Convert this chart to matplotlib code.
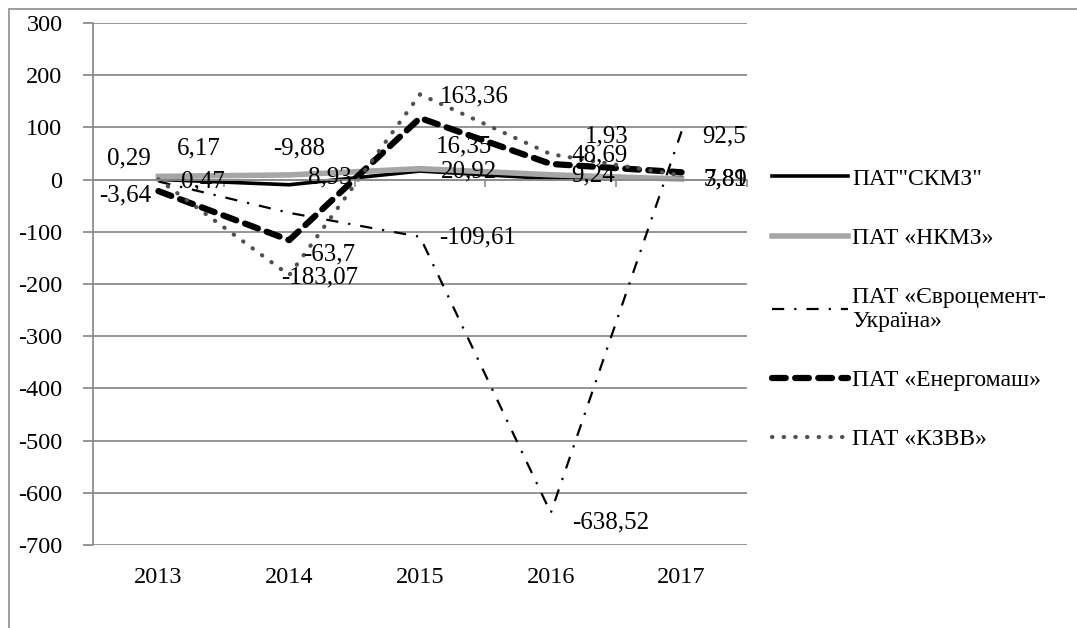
import matplotlib.pyplot as plt
from matplotlib.lines import Line2D
from matplotlib.patches import Rectangle

plt.rcParams['font.family'] = ['Liberation Serif', 'DejaVu Serif']
plt.rcParams['axes.unicode_minus'] = False

years = [2013, 2014, 2015, 2016, 2017]

skmz = [0.29, -9.88, 16.35, 1.93, 3.89]
nkmz = [6.17, 8.93, 20.92, 9.24, 1.0]
eurocement = [-3.64, -63.7, -109.61, -638.52, 92.5]
energomash = [-22.0, -116.0, 118.0, 30.0, 14.0]
kzvv = [0.47, -183.07, 163.36, 48.69, 7.81]

series_names = ['ПАТ"СКМЗ"', 'ПАТ «НКМЗ»', 'ПАТ «Євроцемент-\nУкраїна»',
                'ПАТ «Енергомаш»', 'ПАТ «КЗВВ»']

# data labels as they sit in the original picture (text, x, y in data units)
label_texts = ['0,29', '6,17', '-3,64', '0,47', '-9,88', '8,93', '-63,7', '-183,07',
               '163,36', '16,35', '20,92', '-109,61', '1,93', '48,69', '9,24',
               '-638,52', '92,5', '7,81', '3,89']
label_x = [2012.61, 2013.14, 2012.55, 2013.17, 2013.88, 2014.14, 2014.11, 2013.94,
           2015.15, 2015.12, 2015.16, 2015.15, 2016.26, 2016.16, 2016.16,
           2016.16, 2017.16, 2017.17, 2017.17]
label_y = [41, 59, -31, -3, 60, 5, -144, -188, 160, 64, 15, -110, 82, 46, 7,
           -656, 82, 0, 0]

fig = plt.figure(figsize=(10.77, 6.28), dpi=100)
fig.patches.append(Rectangle((9 / 1077, -0.1), 1.2, 1 - 9 / 628 + 0.1,
                             transform=fig.transFigure, fill=False,
                             edgecolor='#8c8c8c', linewidth=1.2))

ax = fig.add_axes([93 / 1077, 83 / 628, 654 / 1077, 522 / 628])

grid_c = '#8c8c8c'
ax.set_xlim(2012.5, 2017.5)
ax.set_ylim(-700, 300)
ax.set_yticks(range(-700, 301, 100))
ax.set_xticks(years)
ax.set_xticklabels([str(y) for y in years])
ax.yaxis.grid(True, color=grid_c, linewidth=1.3)
ax.set_axisbelow(True)

for s in ['right', 'bottom']:
    ax.spines[s].set_visible(False)
ax.spines['left'].set_color(grid_c)
ax.spines['left'].set_linewidth(1.3)
# category axis crosses at zero
ax.spines['top'].set_position(('data', 0))
ax.spines['top'].set_color(grid_c)
ax.spines['top'].set_linewidth(1.3)
ax.set_xticks([2013.5, 2014.5, 2015.5, 2016.5, 2017.5], minor=True)
ax.tick_params(axis='x', which='major', length=0, pad=16, labelsize=17.5)
ax.tick_params(axis='x', which='minor', bottom=False, top=True, direction='in',
               length=5, color=grid_c, width=1.2)
ax.tick_params(axis='y', length=7, color=grid_c, width=1.3, pad=15, labelsize=17.5)

ax.plot(years, skmz, color='black', linewidth=2.6)
ax.plot(years, nkmz, color='#a6a6a6', linewidth=4)
ax.plot(years, eurocement, color='black', linewidth=1.6,
        dashes=(5.5, 4.5, 1, 4.5))
ax.plot(years, energomash, color='black', linewidth=4.5,
        dashes=(2.2, 1.5), dash_capstyle='round')
ax.plot(years, kzvv, color='#505050', linewidth=3,
        dashes=(0.1, 2.7), dash_capstyle='round')

for t, x, y in zip(label_texts, label_x, label_y):
    ax.text(x, y, t, fontsize=18, ha='left', va='center', color='black')

handles = [
    Line2D([], [], color='black', linewidth=2.6),
    Line2D([], [], color='#a6a6a6', linewidth=4),
    Line2D([], [], color='black', linewidth=1.6, dashes=(5.5, 4.5, 1, 4.5)),
    Line2D([], [], color='black', linewidth=4.5, dashes=(2.2, 1.5),
           dash_capstyle='round'),
    Line2D([], [], color='#505050', linewidth=3, dashes=(0.1, 2.7),
           dash_capstyle='round'),
]
fig.legend(handles, series_names, loc='upper left',
           bbox_to_anchor=(772 / 1077, 1 - 168 / 628), frameon=False,
           fontsize=17, handlelength=3.2, handletextpad=0.2,
           labelspacing=1.6, borderaxespad=0, borderpad=0)

fig.savefig('out.png', dpi=100)
